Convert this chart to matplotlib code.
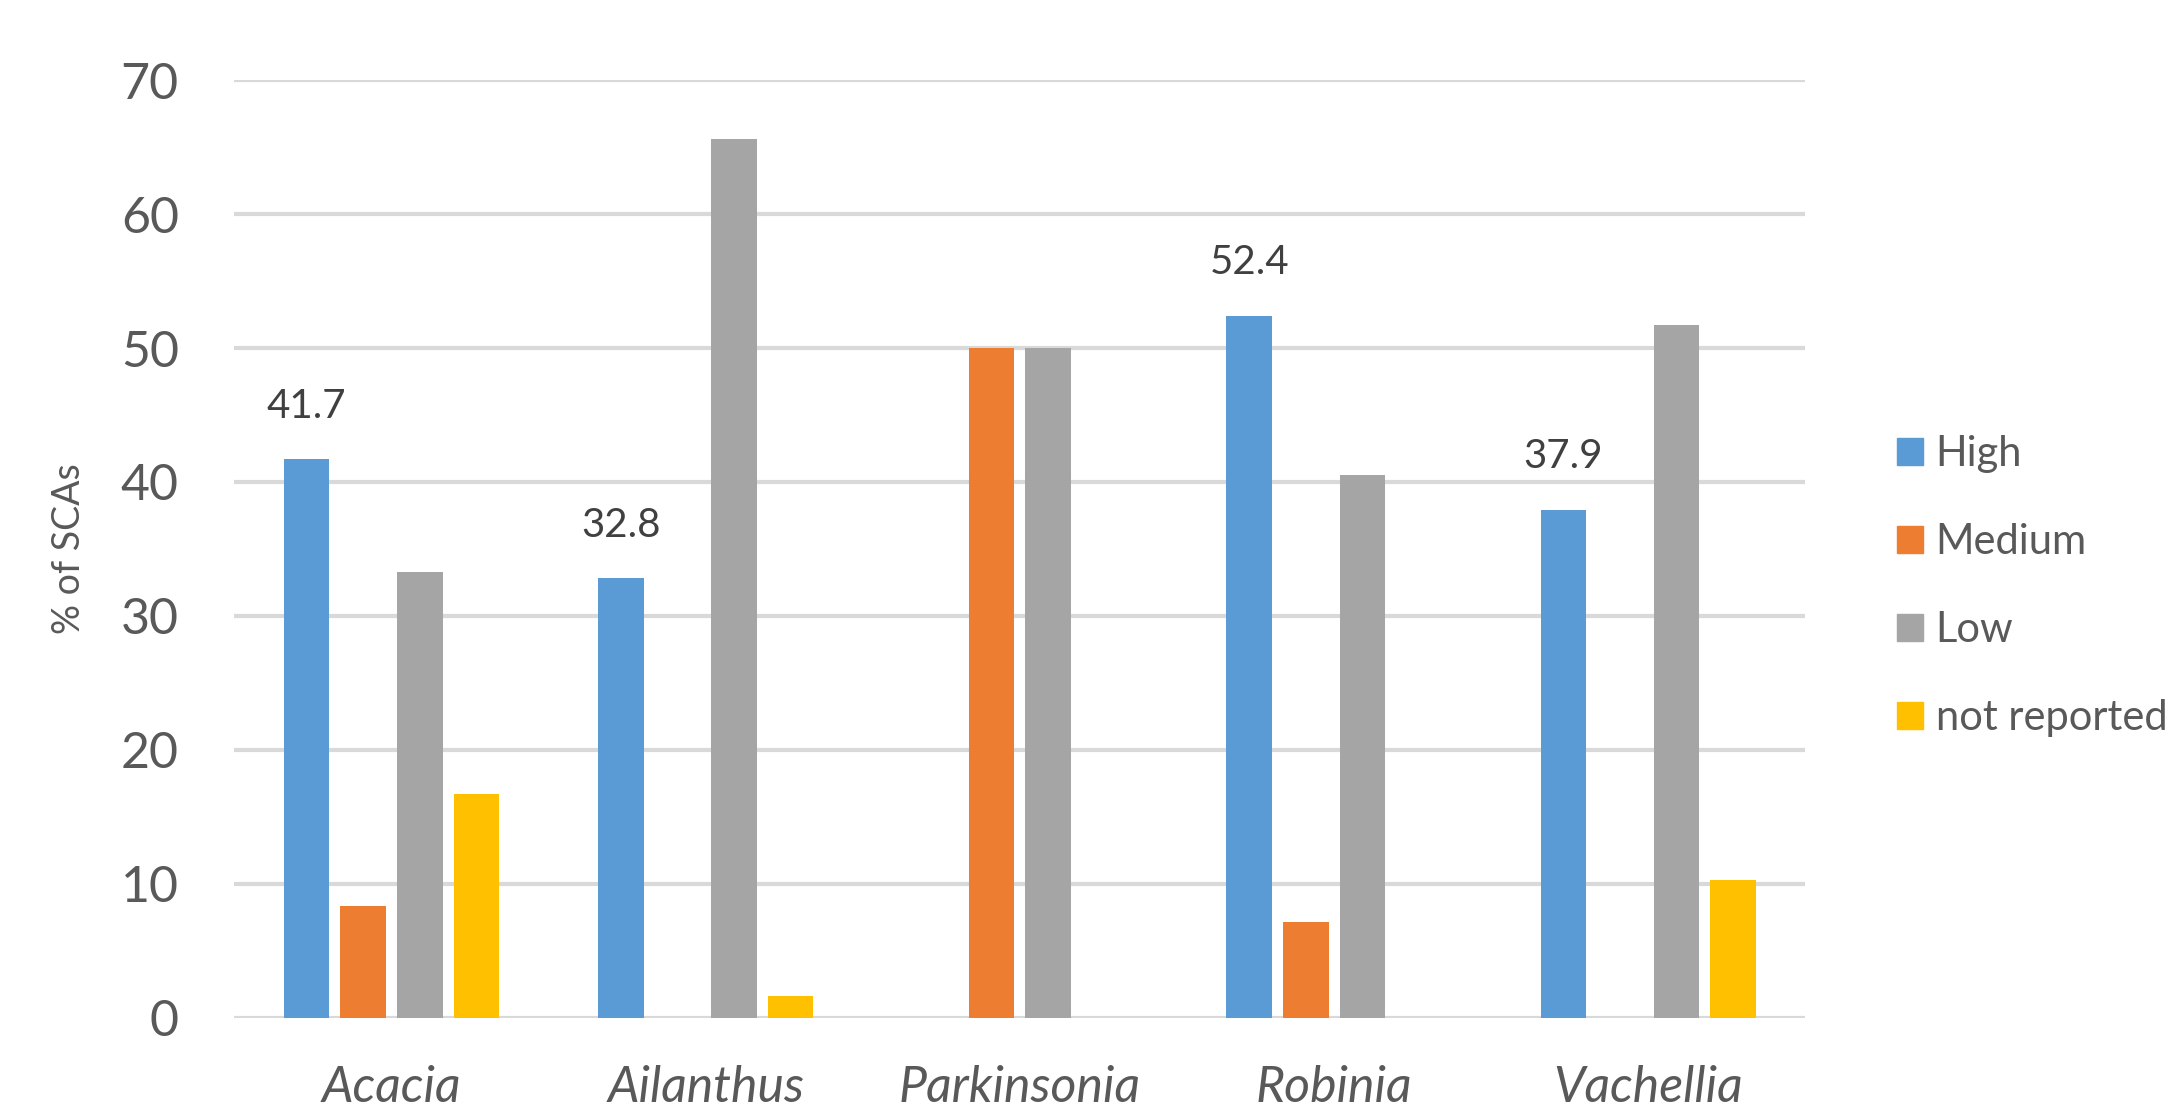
import matplotlib.pyplot as plt
from matplotlib.patches import Patch
import numpy as np

genera = ['Acacia', 'Ailanthus', 'Parkinsonia', 'Robinia', 'Vachellia']
high = [41.7, 32.8, 0, 52.4, 37.9]
medium = [8.3, 0, 50, 7.1, 0]
low = [33.3, 65.6, 50, 40.5, 51.7]
not_reported = [16.7, 1.6, 0, 0, 10.3]

series_names = ['High', 'Medium', 'Low', 'not reported']
colors = ['#5B9BD5', '#ED7D31', '#A5A5A5', '#FFC000']

plt.rcParams['font.family'] = ['Lato', 'DejaVu Sans']

fig = plt.figure(figsize=(21.7, 11.13), dpi=100)
ax = fig.add_axes([0.108, 0.0858, 0.724, 0.842])

x = np.arange(len(genera))
width = 0.145
offsets = [-0.27, -0.09, 0.09, 0.27]
all_series = [high, medium, low, not_reported]

for vals, off, col in zip(all_series, offsets, colors):
    ax.bar(x + off, vals, width, color=col, zorder=3)

# value labels on the High bars only
for xi, v in zip(x, high):
    if v > 0:
        ax.annotate(f'{v}', (xi + offsets[0], v), xytext=(0, 25),
                    textcoords='offset points', ha='center', va='bottom',
                    fontsize=29, color='#404040')

ax.set_xlim(-0.5, 4.5)
ax.set_ylim(0, 70)
ax.set_yticks(range(0, 71, 10))
ax.yaxis.grid(True, color='#D9D9D9', linewidth=3, zorder=0)
ax.set_axisbelow(True)
for s in ax.spines.values():
    s.set_visible(False)

ax.set_xticks(x)
ax.set_xticklabels(genera, style='italic')
ax.tick_params(axis='both', length=0, labelsize=36, labelcolor='#595959')
ax.tick_params(axis='y', pad=40)
ax.tick_params(axis='x', pad=34)

ax.set_ylabel('% of SCAs', fontsize=27, color='#595959', labelpad=24)

handles = [Patch(color=c) for c in colors]
fig.legend(handles, series_names, loc='upper left', bbox_to_anchor=(0.857, 0.643),
           frameon=False, fontsize=30, labelcolor='#595959',
           handlelength=0.62, handleheight=0.62, handletextpad=0.3,
           labelspacing=1.2)

fig.savefig('out.png', dpi=100)
